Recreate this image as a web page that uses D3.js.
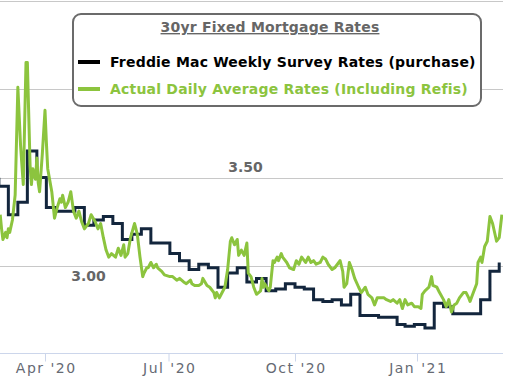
<!DOCTYPE html>
<html lang="en">
<head>
<meta charset="UTF-8">
<title>30yr Fixed Mortgage Rates</title>
<script src="https://cdn.jsdelivr.net/npm/d3@7"></script>
<style>
  html, body { margin: 0; padding: 0; background: #fff; }
  body { font-family: 'DejaVu Sans', Verdana, sans-serif; }
</style>
</head>
<body>
<svg id="chart"></svg>
<script>

// Freddie Mac weekly survey (purchase)
const weeklyDates = [
  "2020-02-20","2020-02-27","2020-03-05","2020-03-12","2020-03-19","2020-03-26",
  "2020-04-02","2020-04-09","2020-04-16","2020-04-23","2020-04-30","2020-05-07",
  "2020-05-14","2020-05-21","2020-05-28","2020-06-04","2020-06-11","2020-06-18",
  "2020-06-25","2020-07-02","2020-07-09","2020-07-16","2020-07-23","2020-07-30",
  "2020-08-06","2020-08-13","2020-08-20","2020-08-27","2020-09-03","2020-09-10",
  "2020-09-17","2020-09-24","2020-10-01","2020-10-08","2020-10-15","2020-10-22",
  "2020-10-29","2020-11-05","2020-11-12","2020-11-19","2020-11-25","2020-12-03",
  "2020-12-10","2020-12-17","2020-12-23","2020-12-30","2021-01-07","2021-01-14",
  "2021-01-21","2021-01-28","2021-02-04","2021-02-11","2021-02-18","2021-02-25",
  "2021-03-04"
];
const weeklyRates = [
  3.49,3.45,3.29,3.36,3.65,3.50,
  3.33,3.31,3.31,3.33,3.23,3.26,
  3.28,3.24,3.15,3.18,3.21,3.13,
  3.13,3.07,3.03,2.98,3.01,2.99,
  2.88,2.96,2.99,2.91,2.93,2.86,
  2.87,2.90,2.88,2.87,2.81,2.80,
  2.81,2.78,2.84,2.72,2.72,2.71,
  2.71,2.67,2.66,2.67,2.65,2.79,
  2.77,2.73,2.73,2.73,2.81,2.97,
  3.02
];

// actual daily averages (incl. refis)
const dailyDates = [
  "2020-02-28","2020-02-29","2020-03-01","2020-03-03","2020-03-04","2020-03-05",
  "2020-03-06","2020-03-08","2020-03-10","2020-03-12","2020-03-14","2020-03-16",
  "2020-03-18","2020-03-19","2020-03-21","2020-03-22","2020-03-23","2020-03-25",
  "2020-03-26","2020-03-27","2020-03-28","2020-03-30","2020-04-01","2020-04-02",
  "2020-04-03","2020-04-06","2020-04-08","2020-04-10","2020-04-12","2020-04-13",
  "2020-04-14","2020-04-16","2020-04-18","2020-04-20","2020-04-22","2020-04-24",
  "2020-04-26","2020-04-28","2020-04-30","2020-05-03","2020-05-05","2020-05-08",
  "2020-05-10","2020-05-12","2020-05-14","2020-05-16","2020-05-18","2020-05-20",
  "2020-05-23","2020-05-25","2020-05-27","2020-05-29","2020-05-30","2020-06-01",
  "2020-06-03","2020-06-06","2020-06-08","2020-06-10","2020-06-12","2020-06-13",
  "2020-06-15","2020-06-16","2020-06-18","2020-06-20","2020-06-22","2020-06-23",
  "2020-06-26","2020-06-28","2020-07-02","2020-07-04","2020-07-07","2020-07-09",
  "2020-07-12","2020-07-14","2020-07-17","2020-07-18","2020-07-20","2020-07-23",
  "2020-07-25","2020-07-26","2020-07-29","2020-07-31","2020-08-03","2020-08-04",
  "2020-08-05","2020-08-07","2020-08-09","2020-08-11","2020-08-13","2020-08-15",
  "2020-08-16","2020-08-18","2020-08-20","2020-08-21","2020-08-23","2020-08-25",
  "2020-08-27","2020-08-28","2020-08-30","2020-09-01","2020-09-03","2020-09-06",
  "2020-09-07","2020-09-08","2020-09-09","2020-09-12","2020-09-13","2020-09-15",
  "2020-09-16","2020-09-18","2020-09-19","2020-09-21","2020-09-22","2020-09-25",
  "2020-09-27","2020-09-30","2020-10-02","2020-10-04","2020-10-06","2020-10-09",
  "2020-10-11","2020-10-13","2020-10-15","2020-10-17","2020-10-20","2020-10-22",
  "2020-10-24","2020-10-26","2020-10-29","2020-10-31","2020-11-02","2020-11-04",
  "2020-11-06","2020-11-07","2020-11-09","2020-11-11","2020-11-13","2020-11-15",
  "2020-11-18","2020-11-20","2020-11-23","2020-11-25","2020-11-28","2020-11-30",
  "2020-12-02","2020-12-04","2020-12-07","2020-12-09","2020-12-12","2020-12-14",
  "2020-12-17","2020-12-19","2020-12-21","2020-12-23","2020-12-25","2020-12-28",
  "2020-12-30","2021-01-02","2021-01-04","2021-01-05","2021-01-07","2021-01-10",
  "2021-01-12","2021-01-13","2021-01-16","2021-01-18","2021-01-21","2021-01-23",
  "2021-01-25","2021-01-27","2021-01-29","2021-01-31","2021-02-02","2021-02-05",
  "2021-02-07","2021-02-09","2021-02-10","2021-02-12","2021-02-15","2021-02-16",
  "2021-02-18","2021-02-19","2021-02-21","2021-02-23","2021-02-25","2021-02-27",
  "2021-03-02","2021-03-04","2021-03-06"
];
const dailyRates = [
  3.29,3.21,3.15,3.19,3.16,3.21,
  3.19,3.26,3.40,4.01,3.68,3.46,
  4.15,4.15,3.57,3.46,3.55,3.49,
  3.61,3.47,3.42,3.63,3.88,3.70,
  3.55,3.42,3.27,3.33,3.38,3.36,
  3.40,3.33,3.36,3.42,3.31,3.27,
  3.31,3.25,3.21,3.24,3.29,3.25,
  3.21,3.24,3.16,3.09,3.05,3.07,
  3.05,3.10,3.06,3.12,3.05,3.07,
  3.16,3.24,3.18,3.05,2.94,2.96,
  2.99,2.99,3.02,2.99,3.01,2.99,
  2.97,2.95,2.94,2.94,2.92,2.93,
  2.91,2.90,2.92,2.90,2.89,2.89,
  2.90,2.93,2.89,2.88,2.85,2.82,
  2.85,2.82,2.85,2.88,2.98,3.14,
  3.16,3.12,3.15,3.06,3.09,3.06,
  3.13,2.96,2.94,2.88,2.84,2.86,
  2.93,2.88,2.90,2.86,2.88,3.03,
  3.02,3.05,3.03,3.07,3.05,3.02,
  2.99,2.98,3.03,3.01,3.05,3.02,
  3.05,3.02,3.03,3.01,3.02,3.05,
  3.04,3.01,2.98,2.99,3.01,3.03,
  2.97,2.88,2.90,3.02,2.98,2.93,
  2.88,2.85,2.88,2.84,2.82,2.78,
  2.82,2.82,2.82,2.81,2.80,2.81,
  2.79,2.81,2.76,2.81,2.78,2.79,
  2.77,2.77,2.76,2.84,2.86,2.88,
  2.94,2.89,2.88,2.85,2.81,2.77,
  2.81,2.74,2.78,2.79,2.82,2.85,
  2.85,2.82,2.80,2.84,2.90,3.02,
  3.05,3.02,3.11,3.14,3.28,3.24,
  3.14,3.16,3.29
];

const tickDates = ["2020-04-01", "2020-07-01", "2020-10-01", "2021-01-01"];
const yLabelValues = [3.0, 3.5];
const gridValues = [3.0, 3.5, 4.0, 4.5];

const legendTitle = "30yr Fixed Mortgage Rates";
const seriesNames = ["Freddie Mac Weekly Survey Rates (purchase)", "Actual Daily Average Rates (Including Refis)"];
const seriesColors = ["#13263d", "#8cc43e"];

const W = 508, H = 385;
const plotW = 503, plotH = 354;

const parse = d3.timeParse("%Y-%m-%d");
const weekly = weeklyDates.map((d, i) => ({ date: parse(d), rate: weeklyRates[i] }));
const daily = dailyDates.map((d, i) => ({ date: parse(d), rate: dailyRates[i] }));

const svg = d3.select('#chart')
    .attr('width', W)
    .attr('height', H)
    .style('display', 'block');

// x axis positions of the quarter ticks are not evenly spaced in the original
const x = d3.scaleTime()
    .domain(tickDates.map(parse))
    .range([45, 168.5, 295, 417]);

const y = d3.scaleLinear()
    .domain([2.5, 4.5])
    .range([354.5, 0.5]);

svg.append('clipPath').attr('id', 'plot-clip')
  .append('rect')
    .attr('x', 0).attr('y', 0)
    .attr('width', plotW).attr('height', plotH);

// gridlines
svg.append('g')
  .selectAll('line')
  .data(gridValues)
  .enter().append('line')
    .attr('x1', 0).attr('x2', plotW)
    .attr('y1', d => Math.round(y(d)) + 0.5)
    .attr('y2', d => Math.round(y(d)) + 0.5)
    .attr('stroke', '#c8c8c8')
    .attr('stroke-width', 1);

// x axis
const xAxis = svg.append('g')
    .attr('transform', `translate(0,${plotH - 0.5})`)
    .call(d3.axisBottom(x)
        .tickValues(tickDates.map(parse))
        .tickFormat(d3.timeFormat("%b '%y"))
        .tickSize(8)
        .tickPadding(2)
        .tickSizeOuter(0));
xAxis.select('.domain').remove();
xAxis.append('line')
    .attr('x1', 0).attr('x2', plotW)
    .attr('stroke', '#ccd6eb');
xAxis.selectAll('.tick line').attr('stroke', '#ccd6eb');
xAxis.selectAll('.tick text')
    .attr('fill', '#666a73')
    .attr('dx', '0.75px')
    .style('font-family', "'DejaVu Sans', Verdana, sans-serif")
    .style('font-size', '14px')
    .style('letter-spacing', '1.5px');

// y labels sit inside the plot
svg.append('g')
  .selectAll('text')
  .data(yLabelValues)
  .enter().append('text')
    .attr('x', d => d === 3.0 ? 88.5 : 245.5)
    .attr('y', d => d === 3.0 ? y(d) + 15 : y(d) - 6)
    .attr('text-anchor', 'middle')
    .attr('fill', '#666')
    .style('font-size', '14px')
    .style('font-weight', 'bold')
    .text(d => d.toFixed(2));

const plot = svg.append('g').attr('clip-path', 'url(#plot-clip)');

const weeklyLine = d3.line()
    .curve(d3.curveStepAfter)
    .x(d => x(d.date))
    .y(d => y(d.rate));

const dailyLine = d3.line()
    .x(d => x(d.date))
    .y(d => y(d.rate));

plot.append('path')
    .datum(weekly)
    .attr('d', weeklyLine)
    .attr('fill', 'none')
    .attr('stroke', seriesColors[0])
    .attr('stroke-width', 3)
    .attr('stroke-linejoin', 'miter');

plot.append('path')
    .datum(daily)
    .attr('d', dailyLine)
    .attr('fill', 'none')
    .attr('stroke', seriesColors[1])
    .attr('stroke-width', 3)
    .attr('stroke-linejoin', 'round');

// legend
const legend = svg.append('g').attr('transform', 'translate(73,14)');
legend.append('rect')
    .attr('width', 408).attr('height', 92)
    .attr('rx', 8).attr('ry', 8)
    .attr('fill', '#fff')
    .attr('stroke', '#6b6b6b')
    .attr('stroke-width', 2);

legend.append('text')
    .attr('x', 197).attr('y', 18)
    .attr('text-anchor', 'middle')
    .attr('fill', '#666')
    .style('font-size', '14px')
    .style('font-weight', 'bold')
    .style('letter-spacing', '0.2px')
    .style('text-decoration', 'underline')
    .text(legendTitle);

const items = legend.selectAll('.item')
    .data(seriesNames)
    .enter().append('g')
    .attr('class', 'item')
    .attr('transform', (d, i) => `translate(0,${48 + i * 27})`);

items.append('line')
    .attr('x1', 5).attr('x2', 27)
    .attr('stroke', (d, i) => i === 0 ? '#000' : seriesColors[i])
    .attr('stroke-width', 4);

items.append('text')
    .attr('x', 37).attr('y', 5)
    .attr('fill', (d, i) => i === 0 ? '#000' : seriesColors[1])
    .style('font-size', '14px')
    .style('font-weight', 'bold')
    .style('letter-spacing', '0.2px')
    .text(d => d);

</script>
</body>
</html>
